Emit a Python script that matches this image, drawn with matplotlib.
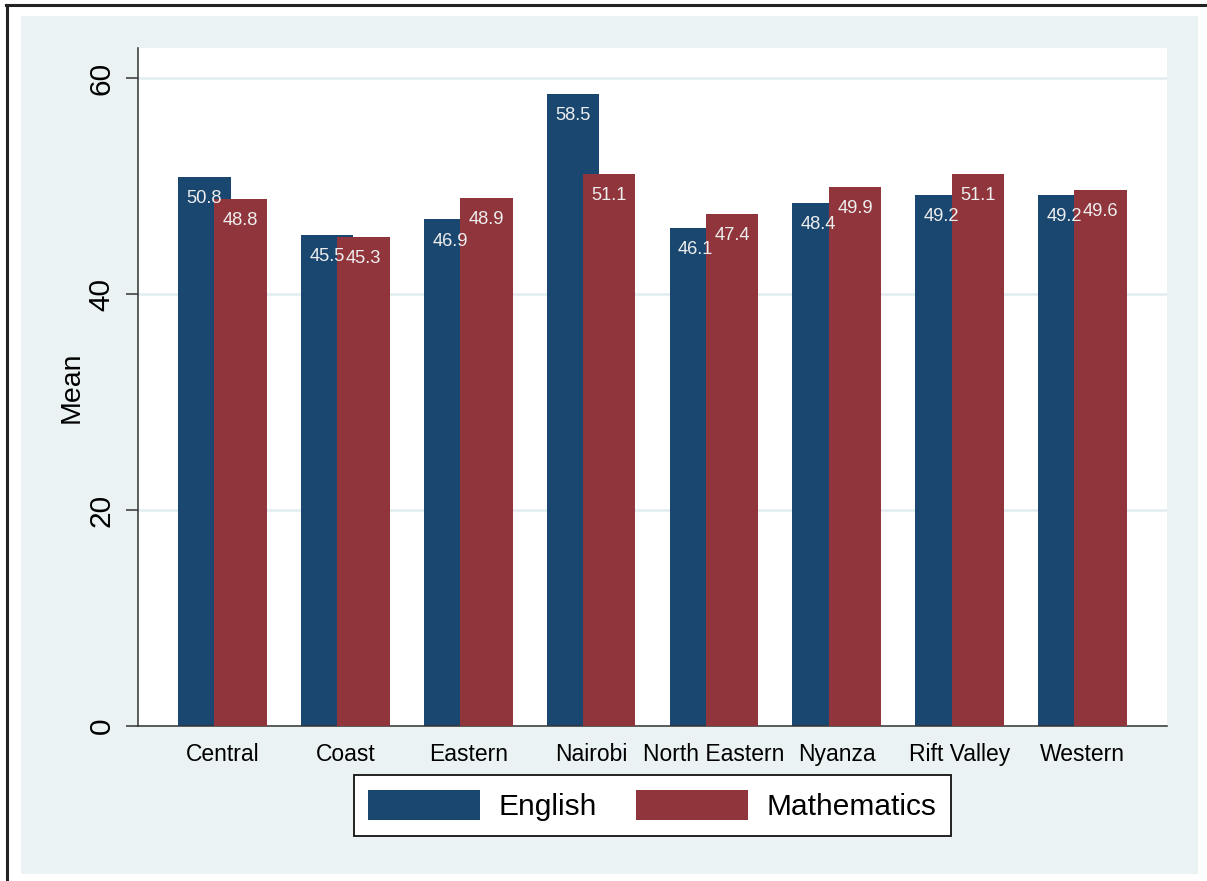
import matplotlib
matplotlib.use("Agg")
import matplotlib.pyplot as plt
import numpy as np
from matplotlib.patches import Rectangle
from matplotlib.lines import Line2D

regions = ["Central", "Coast", "Eastern", "Nairobi", "North Eastern", "Nyanza", "Rift Valley", "Western"]
english = [50.8, 45.5, 46.9, 58.5, 46.1, 48.4, 49.2, 49.2]
maths = [48.8, 45.3, 48.9, 51.1, 47.4, 49.9, 51.1, 49.6]
series_names = ["English", "Mathematics"]
yticks = [0, 20, 40, 60]

NAVY = "#1A476F"
MAROON = "#90353B"
BG = "#EAF2F3"

plt.rcParams['font.family'] = ['Liberation Sans', 'DejaVu Sans']

W, H = 1207, 881
fig = plt.figure(figsize=(W / 100, H / 100), dpi=100)
fig.patch.set_facecolor("white")

# outer background panel
fig.patches.append(Rectangle((21 / W, 1 - 874 / H), (1198 - 21) / W, (874 - 16) / H,
                             transform=fig.transFigure, facecolor=BG, edgecolor="none", zorder=-10))
# outer frame lines (top and left)
fig.lines.append(Line2D([6 / W, 1], [1 - 5 / H, 1 - 5 / H], transform=fig.transFigure,
                        color="#222222", linewidth=2.2, zorder=-5))
fig.lines.append(Line2D([7 / W, 7 / W], [0, 1 - 5 / H], transform=fig.transFigure,
                        color="#222222", linewidth=2.2, zorder=-5))

ax = fig.add_axes([138 / W, 1 - 726 / H, (1167 - 138) / W, (726 - 48) / H])
ax.set_zorder(1)
ax.set_facecolor("white")

x = np.arange(len(regions))
bw = 0.427
off = 0.148
b1 = ax.bar(x - off, english, width=bw, color=NAVY, label=series_names[0], zorder=2)
b2 = ax.bar(x + off, maths, width=bw, color=MAROON, label=series_names[1], zorder=3)

for bars, vals in ((b1, english), (b2, maths)):
    for rect, v in zip(bars, vals):
        ax.annotate(f"{v:.1f}", (rect.get_x() + rect.get_width() / 2, v),
                    xytext=(0, -15.5), textcoords="offset points",
                    ha="center", va="center", fontsize=13.2, color="#EEEEEE", zorder=5)

ax.set_xlim(-0.688, 7.688)
ax.set_ylim(0, 62.78)
ax.set_yticks(yticks)
ax.set_yticklabels([str(t) for t in yticks], rotation=90, va="center")
ax.set_xticks(x)
ax.set_xticklabels(regions, fontsize=16.5)
ax.tick_params(axis="x", length=0, pad=12)
ax.tick_params(axis="y", length=8.6, width=1.1, color="#333333", labelsize=21.5, pad=7.5)
ax.grid(axis="y", color="#E4EEF0", linewidth=2, zorder=1)
ax.set_axisbelow(True)

for s in ["top", "right"]:
    ax.spines[s].set_visible(False)
for s in ["left", "bottom"]:
    ax.spines[s].set_color("#333333")
    ax.spines[s].set_linewidth(1.1)

ax.set_ylabel("Mean", fontsize=20.5, labelpad=2)

leg = fig.legend(handles=[b1, b2], labels=series_names, loc="center",
                 bbox_to_anchor=(652.5 / W, 1 - 805.5 / H), ncol=2, fontsize=21.5,
                 frameon=True, fancybox=False, framealpha=1, edgecolor="#111111",
                 handlelength=3.75, handleheight=1.2, handletextpad=0.62,
                 columnspacing=1.3, borderpad=0.48)
leg.get_frame().set_linewidth(1.3)
leg.set_zorder(2)

fig.savefig("out.png", dpi=100, facecolor="white")
